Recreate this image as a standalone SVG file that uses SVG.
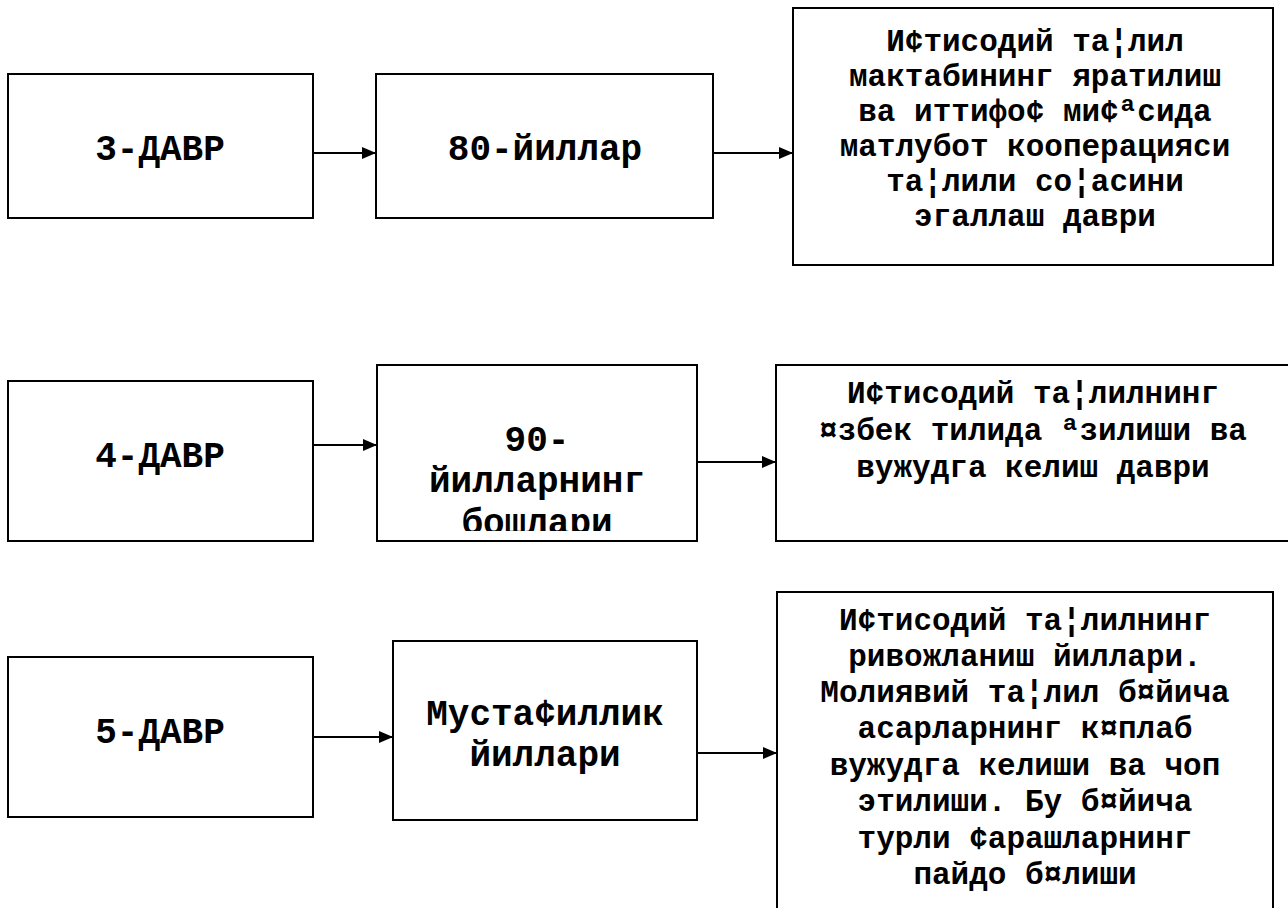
<svg xmlns="http://www.w3.org/2000/svg" width="1288" height="908" viewBox="0 0 1288 908">
<style>
.box{fill:#fff;stroke:#000;stroke-width:2}
.t{font-family:"Liberation Mono","Courier New",monospace;font-weight:bold;fill:#000;text-anchor:middle}
.big{font-size:36px}
.sm{font-size:31px}
.con{stroke:#000;stroke-width:2;fill:none}
</style>
<defs>
<marker id="ah" markerWidth="14" markerHeight="12" refX="14" refY="6" orient="auto" markerUnits="userSpaceOnUse">
<path d="M0,0 L14,6 L0,12 Z" fill="#000"/>
</marker>
<clipPath id="clip42"><rect x="378" y="366" width="318" height="165"/></clipPath>
</defs>
<rect width="1288" height="908" fill="#fff"/>
<g id="connectors">
<line class="con" x1="313" y1="153" x2="376" y2="153" marker-end="url(#ah)"/>
<line class="con" x1="713" y1="153" x2="793" y2="153" marker-end="url(#ah)"/>
<line class="con" x1="313" y1="445" x2="377" y2="445" marker-end="url(#ah)"/>
<line class="con" x1="697" y1="462" x2="776" y2="462" marker-end="url(#ah)"/>
<line class="con" x1="313" y1="737" x2="393" y2="737" marker-end="url(#ah)"/>
<line class="con" x1="697" y1="753" x2="777" y2="753" marker-end="url(#ah)"/>
</g>
<g id="n31">
<rect class="box" x="8" y="74" width="305" height="144"/>
<text class="t big" x="160" y="160">3-ДАВР</text>
</g>
<g id="n32">
<rect class="box" x="376" y="74" width="337" height="144"/>
<text class="t big" x="545" y="160">80-йиллар</text>
</g>
<g id="n33">
<rect class="box" x="793" y="8" width="480" height="257"/>
<text class="t sm" x="1035" y="51">И¢тисодий та¦лил</text>
<text class="t sm" x="1035" y="86">мактабининг яратилиш</text>
<text class="t sm" x="1035" y="121">ва иттифо¢ ми¢ªсида</text>
<text class="t sm" x="1035" y="156">матлубот кооперацияси</text>
<text class="t sm" x="1035" y="191">та¦лили со¦асини</text>
<text class="t sm" x="1035" y="226">эгаллаш даври</text>
</g>
<g id="n41">
<rect class="box" x="8" y="381" width="305" height="160"/>
<text class="t big" x="160" y="467">4-ДАВР</text>
</g>
<g id="n42">
<rect class="box" x="377" y="365" width="320" height="176"/>
<g clip-path="url(#clip42)">
<text class="t big" x="537" y="451">90-</text>
<text class="t big" x="537" y="492">йилларнинг</text>
<text class="t big" x="537" y="534">бошлари</text>
</g>
</g>
<g id="n43">
<rect class="box" x="776" y="365" width="516" height="176"/>
<text class="t sm" x="1033" y="403">И¢тисодий та¦лилнинг</text>
<text class="t sm" x="1033" y="440">¤збек тилида ªзилиши ва</text>
<text class="t sm" x="1033" y="477">вужудга келиш даври</text>
</g>
<g id="n51">
<rect class="box" x="8" y="657" width="305" height="160"/>
<text class="t big" x="160" y="743">5-ДАВР</text>
</g>
<g id="n52">
<rect class="box" x="393" y="641" width="304" height="179"/>
<text class="t big" x="545" y="725">Муста¢иллик</text>
<text class="t big" x="545" y="766">йиллари</text>
</g>
<g id="n53">
<rect class="box" x="777" y="592" width="496" height="330"/>
<text class="t sm" x="1025" y="630">И¢тисодий та¦лилнинг</text>
<text class="t sm" x="1025" y="666">ривожланиш йиллари.</text>
<text class="t sm" x="1025" y="702">Молиявий та¦лил б¤йича</text>
<text class="t sm" x="1025" y="738">асарларнинг к¤плаб</text>
<text class="t sm" x="1025" y="775">вужудга келиши ва чоп</text>
<text class="t sm" x="1025" y="811">этилиши. Бу б¤йича</text>
<text class="t sm" x="1025" y="848">турли ¢арашларнинг</text>
<text class="t sm" x="1025" y="884">пайдо б¤лиши</text>
</g>
</svg>
